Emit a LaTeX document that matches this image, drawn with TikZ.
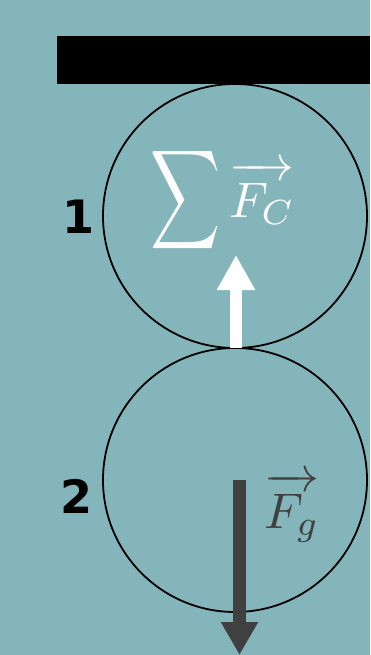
\documentclass[tikz,border=0pt]{standalone}
\usepackage{fontspec}
\newfontfamily\labelfont{DejaVu Sans}
\usetikzlibrary{arrows.meta}
\definecolor{bgteal}{RGB}{132,181,186}
\definecolor{darkarrow}{RGB}{64,64,64}
\begin{document}
\begin{tikzpicture}[x=1pt,y=-1pt,
  ball/.style={circle,draw=black,line width=1.8pt,minimum size=264pt,inner sep=0pt},
  numlabel/.style={font=\labelfont\bfseries\fontsize{46}{50}\selectfont,text=black,inner sep=0pt},
  mathlabel/.style={inner sep=0pt}]
\fill[bgteal] (0,0) rectangle (370,655);
\useasboundingbox (0,0) rectangle (370,655);
\fill[black] (57,36) rectangle (370,84);
\node[ball] (c1) at (235,216) {};
\node[ball] (c2) at (235,480) {};
\node[numlabel] (n1) at (79,217) {1};
\node[numlabel] (n2) at (77,496) {2};
\node[inner sep=0pt,text=white] (sum) at (185.5,200.5) {\resizebox*{70pt}{111pt}{$\displaystyle\sum$}};
\node[mathlabel,text=white,anchor=base west] (fc) at (229,217) {\scalebox{5}{$\overrightarrow{\rule{0pt}{8.3pt}F_C}$}};
\node[mathlabel,text=darkarrow,anchor=base west] (fg) at (264,528) {\scalebox{5}{$\overrightarrow{\rule{0pt}{8.3pt}F_g}$}};
\coordinate (wtip) at (236,255);
\coordinate (wbase) at (236,348);
\coordinate (dtop) at (239.5,480);
\coordinate (dtip) at (239.5,655);
\draw[white,line width=12pt,-{Triangle[width=36pt,length=35pt]}] (wbase) -- (wtip);
\draw[darkarrow,line width=13pt,-{Triangle[width=35pt,length=33pt]}] (dtop) -- (dtip);
\end{tikzpicture}
\end{document}
